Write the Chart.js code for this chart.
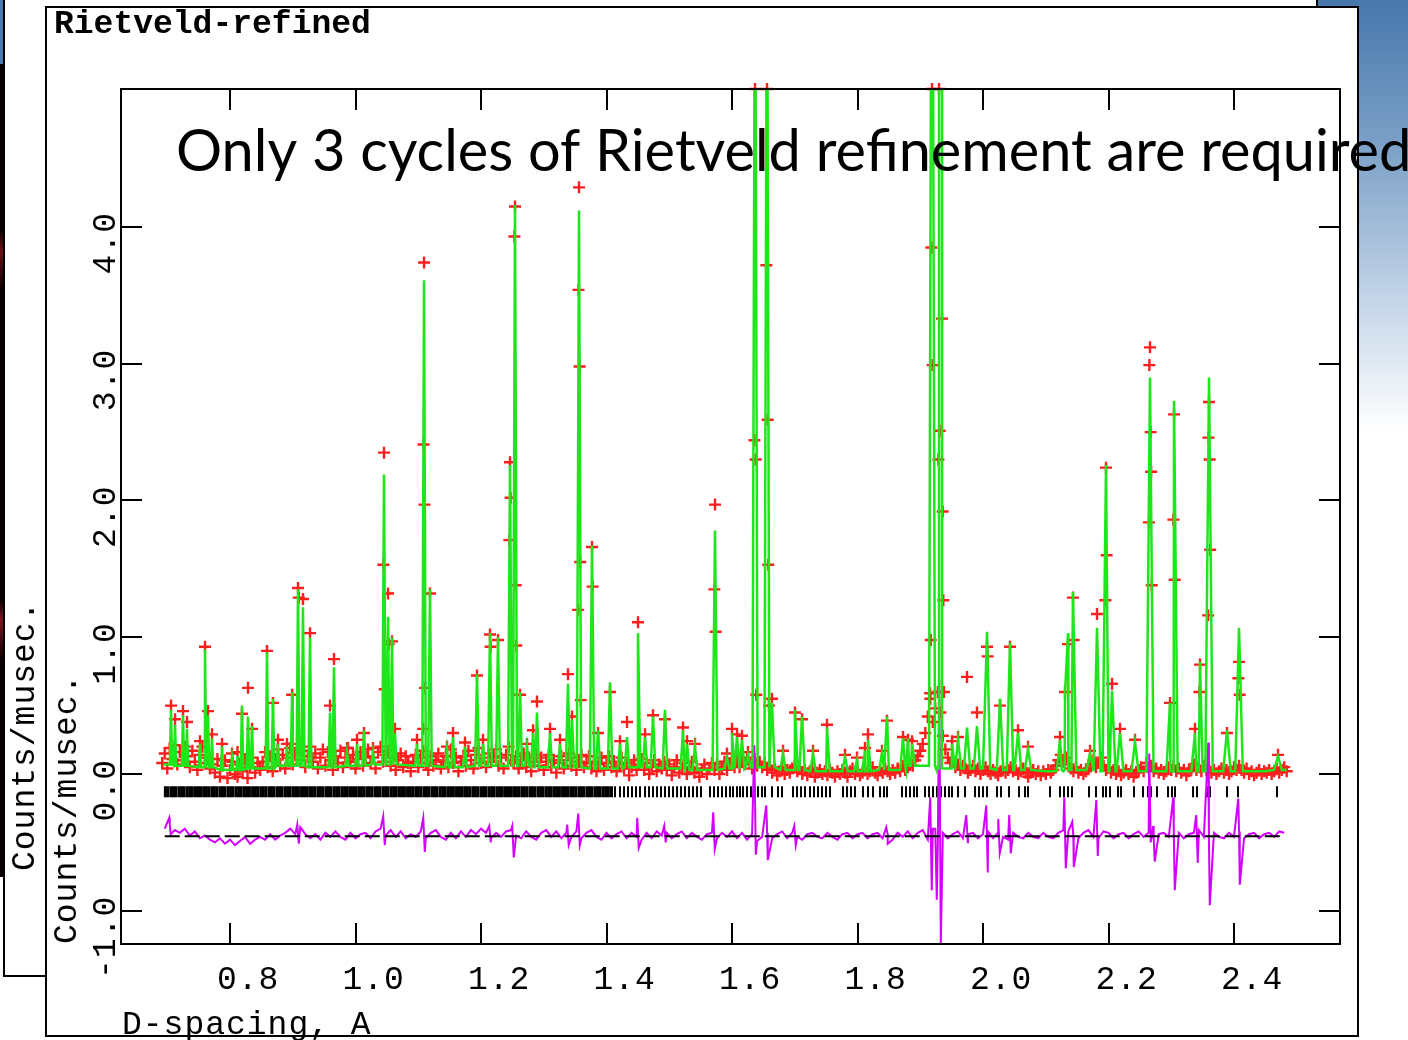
<!DOCTYPE html>
<html>
<head>
<meta charset="utf-8">
<title>Rietveld-refined</title>
<script src="https://cdn.jsdelivr.net/npm/chart.js@4.4.1/dist/chart.umd.min.js"></script>
<style>
  html, body { margin: 0; padding: 0; }
  body { width: 1408px; height: 1040px; position: relative; overflow: hidden; background: #fff; }
  .slide-bg { position: absolute; left: 1300px; top: 0; width: 108px; height: 430px;
    background: linear-gradient(#4777ac, #7ea2c8 35%, #c4d5e8 70%, #fff); }
  .photo-strip { position: absolute; left: 0; top: 0; width: 4px; height: 877px;
    background: linear-gradient(#4a79ae 0 64px, #080000 64px 230px, #6a1018 250px, #0a0000 290px 600px, #7a1622 620px, #0a0000 660px); }
  .back-window { position: absolute; left: 3px; top: -10px; width: 1315px; height: 987px;
    box-sizing: border-box; border: 2px solid #000; background: #fff; }
  .plot-window { position: absolute; left: 45px; top: 6px; width: 1314px; height: 1031px;
    box-sizing: border-box; border: 2px solid #000; background: #fff; }
  #plot { position: absolute; left: 0; top: 0; }
</style>
</head>
<body>
<div class="slide-bg"></div>
<div class="photo-strip"></div>
<div class="back-window"></div>
<div class="plot-window"></div>
<canvas id="plot" width="1408" height="1040"></canvas>
<script>
// axis ranges (d-spacing in A, counts/musec)
const X_MIN = 0.6263, X_MAX = 2.5689;
const Y_MIN = -1.2432, Y_MAX = 5.0091;

// observed profile sampling grid
const OBS_START = 0.692, OBS_STEP = 0.004;
// difference curve grid
const DIFF_START = 0.696, DIFF_STEP = 0.008;

// observed background points on the grid
const obsBg = [
  0.08,0.15,0.04,0.19,0.11,0.21,0.07,0.16,0.10,0.20,
  0.13,0.05,0.17,0.09,0.03,0.14,0.20,0.08,0.12,0.04,
  0.07,0.01,0.11,-0.02,0.06,0.10,-0.03,0.03,0.09,0.00,
  -0.02,0.07,0.02,0.11,-0.03,0.05,0.12,0.01,0.08,0.03,
  0.09,0.16,0.05,0.13,0.02,0.11,0.18,0.06,0.14,0.04,
  0.12,0.19,0.07,0.15,0.22,0.10,0.17,0.05,0.13,0.20,
  0.09,0.15,0.04,0.12,0.18,0.06,0.16,0.10,0.03,0.13,
  0.08,0.17,0.05,0.12,0.19,0.09,0.14,0.04,0.11,0.16,
  0.06,0.13,0.18,0.08,0.12,0.04,0.16,0.20,0.09,0.14,
  0.17,0.06,0.12,0.03,0.10,0.15,0.05,0.13,0.08,0.02,
  0.09,0.14,0.05,0.12,0.17,0.08,0.03,0.13,0.06,0.10,
  0.15,0.04,0.09,0.13,0.05,0.18,0.08,0.12,0.02,0.09,
  0.13,0.06,0.17,0.10,0.04,0.14,0.19,0.08,0.12,0.05,
  0.15,0.09,0.13,0.18,0.06,0.12,0.04,0.14,0.20,0.10,
  0.08,0.13,0.04,0.10,0.15,0.05,0.12,0.02,0.09,0.14,
  0.06,0.12,0.03,0.09,0.14,0.05,0.10,0.01,0.08,0.13,
  0.04,0.10,0.15,0.06,0.12,0.03,0.09,0.14,0.05,0.08,
  0.13,0.04,0.09,0.02,0.07,0.12,0.03,0.08,0.13,0.05,
  0.09,0.02,0.07,0.12,0.04,0.08,-0.01,0.05,0.10,0.03,
  0.07,0.11,0.03,0.08,0.00,0.05,0.10,0.02,0.07,0.04,
  0.09,0.03,0.07,-0.01,0.05,0.10,0.01,0.04,0.08,0.00,
  0.05,0.09,0.01,0.04,-0.02,0.03,0.07,0.00,0.04,0.08,
  0.03,0.07,0.00,0.05,0.09,0.03,0.08,0.11,0.05,0.10,
  0.05,0.10,0.07,0.12,0.08,0.04,0.11,0.06,0.09,0.05,
  0.08,0.03,0.06,0.01,0.04,-0.01,0.02,0.05,0.00,0.03,
  0.01,0.04,0.06,0.02,0.05,0.00,0.03,-0.01,0.02,0.04,
  -0.02,0.01,0.03,0.00,0.02,-0.01,0.03,0.01,-0.02,0.02,
  0.00,0.03,0.01,-0.02,0.02,0.04,0.00,0.02,-0.01,0.01,
  0.03,0.00,0.02,0.05,0.01,-0.01,0.03,0.01,0.04,0.02,
  0.00,0.03,0.01,0.04,0.02,0.06,0.03,0.05,0.08,0.06,
  0.10,0.13,0.17,0.22,0.30,0.42,0.55,0.38,0.48,0.60,
  0.45,0.28,0.18,0.12,0.08,0.10,0.05,0.07,0.03,0.06,
  0.04,0.01,0.03,0.06,0.02,0.04,0.00,0.03,0.05,0.02,
  0.00,0.03,0.01,-0.01,0.02,0.04,0.01,0.03,0.05,0.02,
  0.03,0.00,0.02,0.04,0.01,-0.02,0.01,0.03,0.00,0.02,
  -0.01,0.02,0.00,0.03,0.01,0.03,0.06,0.10,0.14,0.09,
  0.12,0.07,0.04,0.02,0.05,0.01,0.03,0.00,0.02,0.04,
  0.07,0.10,0.05,0.08,0.12,0.06,0.03,0.05,0.01,0.03,
  0.00,0.02,-0.01,0.01,0.03,0.00,0.02,-0.02,0.01,0.03,
  0.05,0.02,0.08,0.04,0.06,0.02,0.04,0.01,0.03,0.00,
  0.02,0.05,0.03,0.06,0.02,0.04,0.01,0.03,-0.01,0.02,
  0.04,0.07,0.03,0.05,0.02,0.06,0.03,0.05,0.01,0.03,
  0.00,0.02,0.04,0.01,0.03,0.00,0.02,0.05,0.03,0.06,
  0.03,0.01,0.04,0.00,0.02,-0.01,0.01,0.03,0.00,0.02,
  0.01,0.03,0.00,0.02,0.04,0.01,0.03,0.05,0.02
];

// difference curve (obs - calc, offset) on its grid
const diffVals = [
  -0.40,-0.37,-0.41,-0.43,-0.40,-0.45,-0.42,-0.47,-0.45,-0.48,
  -0.50,-0.47,-0.51,-0.48,-0.52,-0.49,-0.46,-0.51,-0.48,-0.46,
  -0.48,-0.44,-0.48,-0.45,-0.43,-0.40,-0.44,-0.39,-0.44,-0.47,
  -0.44,-0.48,-0.43,-0.46,-0.42,-0.46,-0.48,-0.43,-0.47,-0.44,
  -0.43,-0.47,-0.42,-0.40,-0.45,-0.41,-0.46,-0.42,-0.47,-0.44,
  -0.46,-0.42,-0.47,-0.43,-0.41,-0.46,-0.48,-0.43,-0.47,-0.42,
  -0.46,-0.41,-0.44,-0.40,-0.43,-0.47,-0.43,-0.46,-0.42,-0.41,
  -0.45,-0.47,-0.42,-0.46,-0.48,-0.43,-0.41,-0.46,-0.42,-0.47,
  -0.43,-0.46,-0.42,-0.47,-0.43,-0.41,-0.46,-0.48,-0.43,-0.47,
  -0.44,-0.42,-0.47,-0.43,-0.46,-0.48,-0.43,-0.47,-0.42,-0.45,
  -0.43,-0.47,-0.44,-0.42,-0.47,-0.43,-0.46,-0.48,-0.44,-0.43,
  -0.47,-0.43,-0.46,-0.42,-0.47,-0.43,-0.48,-0.44,-0.49,-0.46,
  -0.43,-0.47,-0.44,-0.42,-0.47,-0.43,-0.46,-0.48,-0.44,-0.43,
  -0.46,-0.47,-0.43,-0.46,-0.48,-0.44,-0.43,-0.47,-0.44,-0.43,
  -0.47,-0.44,-0.43,-0.47,-0.44,-0.48,-0.43,-0.46,-0.42,-0.47,
  -0.43,-0.41,-0.48,-0.40,-0.52,-0.43,-0.47,-0.44,-0.42,-0.47,
  -0.44,-0.43,-0.47,-0.44,-0.42,-0.47,-0.43,-0.46,-0.48,-0.43,
  -0.46,-0.47,-0.43,-0.46,-0.47,-0.43,-0.46,-0.47,-0.43,-0.41,
  -0.42,-0.46,-0.47,-0.43,-0.41,-0.46,-0.47,-0.42,-0.43,-0.47,
  -0.44,-0.43,-0.47,-0.44,-0.42,-0.46,-0.43,-0.47,-0.44,-0.43,
  -0.46,-0.42,-0.43,-0.47,-0.44,-0.43,-0.41,-0.46,-0.47,-0.43,
  -0.46,-0.47,-0.43,-0.46,-0.42,-0.47,-0.44,-0.43,-0.47,-0.44,
  -0.43,-0.46,-0.42,-0.43
];

// difference spikes at reflections: position, upper and lower excursion
const spikeD  = [0.7044,0.9084,1.0454,1.1092,1.2143,1.2510,1.3386,1.3562,1.4502,1.4932,1.5713,1.6367,1.6558,
                 1.7004,1.8470,1.9171,1.9251,1.9315,1.9745,2.0064,2.0255,2.0430,2.1307,2.1434,2.1817,2.2661,
                 2.2725,2.3044,2.3410,2.3602,2.4080];
const spikeHi = [-0.32,-0.37,-0.31,-0.32,-0.38,-0.38,-0.37,-0.29,-0.32,-0.38,-0.28,0.21,-0.23,
                 -0.38,-0.39,-0.17,-0.40,0.69,-0.30,-0.23,-0.33,-0.30,-0.17,-0.35,-0.19,0.15,
                 -0.38,-0.17,-0.30,0.23,-0.18];
const spikeLo = [-0.44,-0.51,-0.52,-0.57,-0.50,-0.61,-0.52,-0.52,-0.54,-0.50,-0.55,-0.59,-0.63,
                 -0.52,-0.51,-0.85,-0.92,-1.25,-0.50,-0.72,-0.58,-0.58,-0.69,-0.68,-0.60,-0.50,
                 -0.64,-0.85,-0.65,-0.96,-0.81];

// peak positions with calculated and observed maxima
const peakD = [
  0.7060,0.7124,0.7251,0.7315,0.7522,0.7602,0.7649,0.7713,0.7873,0.8032,
  0.8120,0.8191,0.8287,0.8351,0.8590,0.8685,0.8765,0.8908,0.8990,0.9084,
  0.9163,0.9275,0.9594,0.9657,0.9865,1.0024,1.0135,1.0279,1.0454,1.0518,
  1.0582,1.0629,1.0980,1.1092,1.1187,1.1458,1.1554,1.1745,1.1936,1.2032,
  1.2143,1.2271,1.2462,1.2542,1.2622,1.2733,1.2829,1.2892,1.3100,1.3259,
  1.3386,1.3450,1.3562,1.3769,1.3865,1.4056,1.4215,1.4327,1.4502,1.4614,
  1.4741,1.4932,1.5219,1.5283,1.5410,1.5729,1.5920,1.6000,1.6080,1.6159,
  1.6255,1.6367,1.6558,1.6637,1.6813,1.7004,1.7116,1.7291,1.7514,1.7801,
  1.7992,1.8120,1.8167,1.8390,1.8470,1.8725,1.8805,1.8869,1.9187,1.9299,
  1.9347,1.9506,1.9602,1.9745,1.9904,2.0064,2.0271,2.0430,2.0558,2.0717,
  2.1227,2.1307,2.1355,2.1434,2.1705,2.1817,2.1960,2.2056,2.2183,2.2422,
  2.2661,2.2980,2.3044,2.3378,2.3458,2.3602,2.3888,2.4080,2.4701
];
const peakCalc = [
  0.47,0.36,0.43,0.33,0.22,0.91,0.43,0.26,0.20,0.12,
  0.13,0.50,0.42,0.35,0.89,0.55,0.22,0.20,0.60,1.35,
  1.22,1.00,0.45,0.78,0.16,0.22,0.32,0.16,2.19,1.15,
  1.00,0.30,0.22,3.61,1.35,0.18,0.27,0.20,0.73,0.22,
  1.03,1.00,2.26,4.16,0.60,0.20,0.30,0.45,0.30,0.22,
  0.66,0.40,4.12,1.67,0.32,0.67,0.22,0.27,1.03,0.27,
  0.42,0.47,0.32,0.22,0.20,1.78,0.12,0.30,0.27,0.25,
  0.14,6.50,6.50,0.52,0.15,0.47,0.42,0.15,0.34,0.12,
  0.10,0.17,0.25,0.15,0.42,0.26,0.26,0.22,8.00,8.00,
  5.50,0.22,0.25,0.34,0.35,1.04,0.55,0.96,0.30,0.18,
  0.25,0.60,1.03,1.33,0.15,1.07,2.26,0.61,0.30,0.23,
  2.90,0.52,2.73,0.30,0.82,2.90,0.32,1.07,0.13
];
const peakObs = [
  0.50,0.40,0.46,0.38,0.24,0.93,0.46,0.29,0.22,0.15,
  0.16,0.44,0.63,0.33,0.90,0.52,0.25,0.22,0.58,1.36,
  1.28,1.03,0.50,0.84,0.19,0.25,0.30,0.19,2.35,1.32,
  0.97,0.33,0.25,3.74,1.32,0.20,0.30,0.23,0.72,0.25,
  1.02,0.98,2.28,4.15,0.58,0.22,0.32,0.53,0.33,0.25,
  0.73,0.42,4.29,1.66,0.30,0.60,0.24,0.38,1.11,0.29,
  0.43,0.40,0.34,0.24,0.22,1.97,0.15,0.33,0.29,0.28,
  0.16,6.10,6.30,0.55,0.17,0.45,0.40,0.17,0.36,0.14,
  0.12,0.19,0.29,0.17,0.39,0.27,0.25,0.24,7.50,7.80,
  3.33,0.24,0.27,0.71,0.45,0.93,0.50,0.93,0.32,0.20,
  0.27,0.60,0.95,1.29,0.17,1.17,2.24,0.66,0.33,0.25,
  3.12,0.52,2.63,0.33,0.80,2.72,0.30,0.82,0.14
];

// observed points on the flanks of the strong peaks
const flankD = [
  0.9096,1.0444,1.0466,1.0528,1.1078,1.1084,1.1100,1.1108,
  1.2153,1.2452,1.2472,1.2532,1.2552,1.2562,1.3548,1.3554,
  1.3572,1.3580,1.3590,1.3779,1.5719,1.5739,1.6357,1.6377,
  1.6387,1.6548,1.6568,1.6578,1.6588,1.9157,1.9167,1.9177,
  1.9197,1.9289,1.9309,1.9357,1.9367,1.9377,2.0074,2.1444,
  2.1950,2.1970,2.2645,2.2651,2.2671,2.2679,2.2689,2.3034,
  2.3054,2.3448,2.3588,2.3594,2.3612,2.3620,2.4070,2.4090
];
const flankObs = [
  1.29,1.53,0.62,0.95,0.33,2.41,1.97,0.63,
  0.93,1.71,2.02,3.93,1.38,0.94,1.20,3.54,
  2.98,1.55,0.54,1.37,1.35,1.04,2.44,2.30,
  0.58,3.72,2.59,1.53,0.50,0.59,0.98,3.85,
  2.99,2.30,2.51,1.92,1.27,0.60,0.86,0.98,
  1.27,1.60,1.84,2.99,2.50,2.21,1.38,1.86,
  1.42,0.60,1.16,2.46,2.30,1.64,0.70,0.58
];

// calculated background level
const calcBgD = [0.694,0.72,0.76,0.80,0.85,0.90,0.95,1.00,1.05,1.10,1.15,1.20,1.25,1.30,1.35,1.40,1.45,1.50,1.55,
                 1.60,1.65,1.70,1.75,1.80,1.85,1.90,1.95,2.00,2.05,2.10,2.15,2.20,2.25,2.30,2.35,2.40,2.45,2.484];
const calcBg  = [0.07,0.06,0.05,0.03,0.04,0.06,0.05,0.06,0.07,0.06,0.05,0.06,0.06,0.05,0.05,0.04,0.05,0.04,0.03,
                 0.04,0.05,0.03,0.02,0.02,0.03,0.06,0.04,0.04,0.03,0.02,0.03,0.02,0.02,0.02,0.02,0.02,0.02,0.03];

// reflection positions (tick row)
const reflD = [
  0.697,0.701,0.706,0.710,0.714,0.719,0.723,0.727,0.732,0.736,
  0.740,0.745,0.749,0.753,0.758,0.762,0.766,0.771,0.775,0.779,
  0.784,0.788,0.792,0.797,0.801,0.805,0.810,0.814,0.818,0.823,
  0.827,0.831,0.836,0.840,0.844,0.849,0.853,0.857,0.862,0.866,
  0.870,0.875,0.879,0.883,0.888,0.892,0.896,0.901,0.905,0.909,
  0.914,0.918,0.922,0.927,0.931,0.935,0.940,0.944,0.948,0.953,
  0.957,0.961,0.966,0.970,0.974,0.979,0.983,0.987,0.992,0.996,
  1.000,1.005,1.009,1.013,1.018,1.022,1.026,1.031,1.035,1.039,
  1.044,1.048,1.052,1.057,1.061,1.065,1.070,1.074,1.078,1.083,
  1.087,1.091,1.096,1.100,1.104,1.109,1.113,1.117,1.122,1.126,
  1.130,1.135,1.139,1.143,1.148,1.152,1.156,1.161,1.165,1.169,
  1.174,1.178,1.182,1.187,1.191,1.195,1.200,1.204,1.208,1.213,
  1.217,1.221,1.226,1.230,1.234,1.239,1.243,1.247,1.252,1.256,
  1.260,1.265,1.269,1.273,1.278,1.282,1.286,1.291,1.295,1.299,
  1.304,1.308,1.312,1.317,1.321,1.325,1.330,1.334,1.338,1.343,
  1.347,1.351,1.356,1.360,1.364,1.369,1.373,1.377,1.382,1.386,
  1.390,1.395,1.399,1.403,1.408,
  1.4135,1.4215,1.4279,1.4343,1.4406,1.4470,1.4534,1.4614,1.4677,1.4741,
  1.4805,1.4869,1.4932,1.4996,1.5060,1.5124,1.5187,1.5251,1.5315,1.5378,
  1.5442,1.5506,1.5649,1.5713,1.5777,1.5841,1.5904,1.5968,1.6016,1.6080,
  1.6127,1.6175,1.6239,1.6303,1.6367,1.6414,1.6478,1.6526,1.6637,1.6733,
  1.6797,1.6972,1.7036,1.7100,1.7163,1.7243,1.7307,1.7371,1.7434,1.7498,
  1.7562,1.7769,1.7833,1.7896,1.7960,1.8088,1.8167,1.8247,1.8359,1.8422,
  1.8470,1.8709,1.8773,1.8837,1.8900,1.8948,1.9076,1.9139,1.9203,1.9267,
  1.9331,1.9394,1.9458,1.9506,1.9602,1.9713,1.9873,1.9936,2.0000,2.0064,
  2.0223,2.0287,2.0414,2.0574,2.0669,2.0717,2.1068,2.1227,2.1291,2.1355,
  2.1418,2.1689,2.1801,2.1912,2.1960,2.2024,2.2151,2.2199,2.2406,2.2550,
  2.2629,2.2677,2.2773,2.2948,2.3012,2.3060,2.3347,2.3410,2.3570,2.3618,
  2.3888,2.4064,2.4685
];

const REFL_LEVEL = -0.13;
const DIFF_ZERO = -0.455;
const PEAK_HW = 0.0025;      // half width of a calculated peak, relative to d
const SPIKE_HW = 0.0012;
const TICK_LEN = 21;

const MONO = "'Liberation Mono', 'DejaVu Sans Mono', monospace";
const NOTE_FONT = "Lato, 'Open Sans', sans-serif";
const NOTE = 'Only 3 cycles of Rietveld refinement are required';

// ---- build point lists ----
function nearestBg(d) {
  let best = 0;
  calcBgD.forEach((v, i) => { if (Math.abs(v - d) < Math.abs(calcBgD[best] - d)) best = i; });
  return calcBg[best];
}

const obsPoints = obsBg.map((v, i) => ({ x: OBS_START + i * OBS_STEP, y: v }));
peakD.forEach((d, i) => obsPoints.push({ x: d, y: Math.min(peakObs[i], Y_MAX) }));
flankD.forEach((d, i) => obsPoints.push({ x: d, y: Math.min(flankObs[i], Y_MAX) }));

const calcPoints = calcBgD.map((d, i) => ({ x: d, y: calcBg[i] }));
peakD.forEach((d, i) => {
  const w = PEAK_HW * d, base = nearestBg(d);
  calcPoints.push({ x: d - w, y: base }, { x: d, y: peakCalc[i] }, { x: d + w, y: base });
});
calcPoints.sort((a, b) => a.x - b.x);

const diffPoints = diffVals.map((v, i) => ({ x: DIFF_START + i * DIFF_STEP, y: v }));
spikeD.forEach((d, i) => {
  diffPoints.push({ x: d - SPIKE_HW, y: spikeHi[i] }, { x: d + SPIKE_HW, y: spikeLo[i] });
});
diffPoints.sort((a, b) => a.x - b.x);

const reflPoints = reflD.map(d => ({ x: d, y: REFL_LEVEL }));
const zeroLine = [
  { x: DIFF_START, y: DIFF_ZERO },
  { x: DIFF_START + (diffVals.length - 1) * DIFF_STEP, y: DIFF_ZERO }
];

// frame with inward ticks, rotated y labels and window texts
const gsasFrame = {
  id: 'gsasFrame',
  afterDatasetsDraw(chart) {
    const { ctx, chartArea: a, scales: { x, y } } = chart;
    const yTicks = y.ticks.filter(t => t.value <= 4);
    ctx.save();
    ctx.strokeStyle = '#000';
    ctx.lineWidth = 2;
    ctx.strokeRect(a.left, a.top, a.right - a.left, a.bottom - a.top);

    ctx.beginPath();
    x.ticks.forEach(t => {
      const px = Math.round(x.getPixelForValue(t.value));
      ctx.moveTo(px, a.bottom); ctx.lineTo(px, a.bottom - TICK_LEN);
      ctx.moveTo(px, a.top); ctx.lineTo(px, a.top + TICK_LEN);
    });
    yTicks.forEach(t => {
      const py = Math.round(y.getPixelForValue(t.value));
      ctx.moveTo(a.left, py); ctx.lineTo(a.left + TICK_LEN, py);
      ctx.moveTo(a.right, py); ctx.lineTo(a.right - TICK_LEN, py);
    });
    ctx.stroke();

    ctx.fillStyle = '#000';
    ctx.font = `33px ${MONO}`;
    ctx.textBaseline = 'alphabetic';
    ctx.textAlign = 'left';
    ctx.letterSpacing = '1px';
    x.ticks.forEach(t => {
      ctx.fillText(t.value.toFixed(1), x.getPixelForValue(t.value) - 13, 989);
    });
    yTicks.forEach(t => {
      ctx.save();
      ctx.translate(115, y.getPixelForValue(t.value));
      ctx.rotate(-Math.PI / 2);
      ctx.textAlign = 'right';
      ctx.fillText(t.value.toFixed(1), 15, 0);
      ctx.restore();
    });

    // axis titles
    ctx.fillText('D-spacing, A', 122, 1034);
    ctx.save();
    ctx.translate(76, 944);
    ctx.rotate(-Math.PI / 2);
    ctx.fillText('Counts/musec.', 0, 0);
    ctx.restore();
    ctx.save();
    ctx.translate(34, 871);
    ctx.rotate(-Math.PI / 2);
    ctx.fillText('Counts/musec.', 0, 0);
    ctx.restore();

    ctx.letterSpacing = '0px';
    ctx.font = `bold 33px ${MONO}`;
    ctx.fillText('Rietveld-refined', 54, 33);
    ctx.restore();
  },
  afterDraw(chart) {
    const ctx = chart.ctx;
    ctx.save();
    ctx.font = `56px ${NOTE_FONT}`;
    const size = 56 * 1236 / ctx.measureText(NOTE).width;
    ctx.font = `${size.toFixed(1)}px ${NOTE_FONT}`;
    ctx.fillStyle = '#000';
    ctx.textBaseline = 'alphabetic';
    ctx.textAlign = 'left';
    ctx.fillText(NOTE, 176, 171);
    ctx.restore();
  }
};

new Chart(document.getElementById('plot'), {
  type: 'scatter',
  data: {
    datasets: [
      {
        label: 'Calculated', data: calcPoints, showLine: true, order: 1,
        borderColor: '#1ee61a', borderWidth: 2.5, pointRadius: 0, tension: 0
      },
      {
        label: 'Zero', data: zeroLine, showLine: true, order: 2,
        borderColor: '#000', borderWidth: 2, borderDash: [15, 5], pointRadius: 0
      },
      {
        label: 'Difference', data: diffPoints, showLine: true, order: 3,
        borderColor: '#d400ff', borderWidth: 2, pointRadius: 0, tension: 0
      },
      {
        label: 'Observed', data: obsPoints, order: 4, clip: false,
        pointStyle: 'cross', pointRadius: 6, pointBorderWidth: 2.4,
        borderColor: '#ff1e1e', pointBorderColor: '#ff1e1e', backgroundColor: '#ff1e1e'
      },
      {
        label: 'Reflections', data: reflPoints, order: 5,
        pointStyle: 'line', pointRotation: 90, pointRadius: 5.5,
        pointBorderWidth: ctx => (ctx.raw && ctx.raw.x < 1.41 ? 3 : 2),
        borderColor: '#000', pointBorderColor: '#000'
      }
    ]
  },
  options: {
    responsive: false,
    animation: false,
    devicePixelRatio: 1,
    events: [],
    layout: { padding: { left: 121, top: 89, right: 68, bottom: 96 } },
    plugins: { legend: { display: false }, tooltip: { enabled: false } },
    scales: {
      x: {
        type: 'linear', min: X_MIN, max: X_MAX,
        ticks: { display: false, stepSize: 0.2, includeBounds: false },
        grid: { display: false, drawTicks: false },
        border: { display: false }
      },
      y: {
        type: 'linear', min: Y_MIN, max: Y_MAX,
        ticks: { display: false, stepSize: 1, includeBounds: false },
        grid: { display: false, drawTicks: false },
        border: { display: false }
      }
    }
  },
  plugins: [gsasFrame]
});
</script>
</body>
</html>
